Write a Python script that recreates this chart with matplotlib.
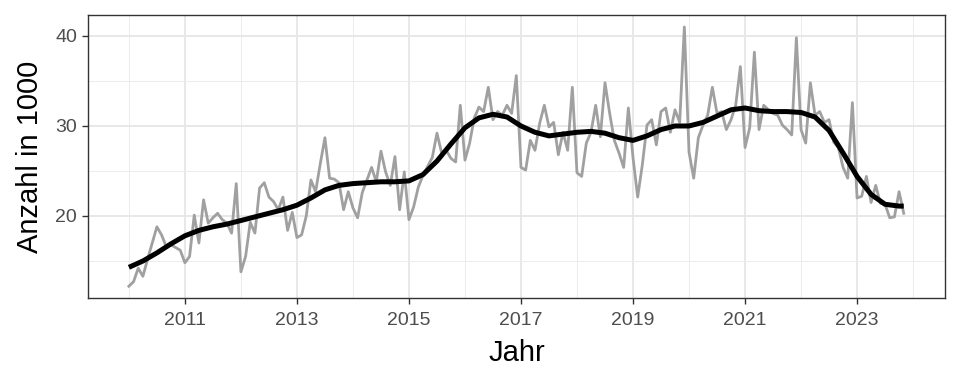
import numpy as np
from matplotlib import pyplot as plt
from matplotlib.ticker import FixedLocator

# monthly values (in 1000), Jan 2010 .. Nov 2023
anzahl = [
    12.2, 12.7, 14.2, 13.3, 15.2, 17.0, 18.8, 17.9, 16.6, 16.8, 16.5, 16.2,  # 2010
    14.8, 15.5, 20.1, 17.0, 21.8, 19.2, 19.8, 20.3, 19.6, 19.2, 18.1, 23.6,  # 2011
    13.8, 15.5, 19.3, 18.1, 23.1, 23.7, 22.1, 21.6, 20.7, 22.1, 18.4, 20.4,  # 2012
    17.6, 17.9, 20.0, 24.0, 22.7, 25.8, 28.7, 24.2, 24.1, 23.7, 20.7, 22.7,  # 2013
    20.9, 19.8, 22.6, 24.0, 25.4, 23.8, 27.2, 24.9, 23.4, 26.6, 20.7, 24.9,  # 2014
    19.6, 21.0, 23.2, 24.5, 25.5, 26.5, 29.2, 27.0, 27.3, 26.4, 26.0, 32.3,  # 2015
    26.2, 28.1, 30.9, 32.1, 31.6, 34.3, 30.7, 31.6, 31.2, 32.3, 31.4, 35.6,  # 2016
    25.4, 25.1, 28.4, 27.3, 30.3, 32.3, 29.9, 30.4, 26.8, 29.3, 27.3, 34.3,  # 2017
    24.8, 24.4, 28.1, 29.3, 32.3, 28.8, 34.8, 31.4, 28.4, 27.0, 25.4, 32.0,  # 2018
    26.5, 22.1, 25.7, 30.1, 30.7, 27.9, 31.6, 32.0, 29.3, 31.8, 30.4, 41.0,  # 2019
    27.1, 24.2, 28.7, 30.1, 31.2, 34.3, 31.4, 31.6, 29.6, 30.7, 32.3, 36.6,  # 2020
    27.6, 29.8, 38.2, 29.6, 32.3, 31.8, 31.4, 31.2, 30.1, 29.6, 29.0, 39.8,  # 2021
    29.6, 28.1, 34.8, 31.2, 31.6, 30.4, 30.7, 28.2, 27.6, 25.4, 24.2, 32.6,  # 2022
    22.0, 22.2, 24.4, 21.5, 23.4, 21.4, 21.3, 19.8, 19.9, 22.7, 20.3,        # 2023
]
jahr = 2010 + np.arange(len(anzahl)) / 12

# smoothed trend
trend_jahr = [2010 + q / 4 for q in range(56)] + [2023 + 10 / 12]
trend = [
    14.3, 15.0, 15.9, 16.9, 17.8, 18.4, 18.8, 19.1,
    19.5, 19.9, 20.3, 20.7, 21.2, 22.0, 22.9, 23.4,
    23.6, 23.7, 23.8, 23.8, 23.9, 24.6, 26.1, 28.0,
    29.8, 30.9, 31.3, 31.0, 30.0, 29.3, 28.9, 29.1,
    29.3, 29.4, 29.2, 28.7, 28.4, 28.9, 29.6, 30.0,
    30.0, 30.4, 31.1, 31.8, 32.0, 31.7, 31.6, 31.6,
    31.5, 31.0, 29.5, 27.0, 24.4, 22.4, 21.3, 21.1,
    21.1,
]

plt.rcParams['font.family'] = ['Liberation Sans', 'DejaVu Sans']

fig = plt.figure(figsize=(9.6, 3.84), dpi=100)
ax = fig.add_axes([88 / 960, 86 / 384, 857 / 960, 283 / 384])

ax.plot(jahr, anzahl, color='#a0a0a0', lw=2.0, zorder=3)
ax.plot(trend_jahr, trend, color='black', lw=3.6, zorder=4,
        solid_capstyle='butt', solid_joinstyle='round')

ax.set_xlim(2009.27, 2024.57)
ax.set_ylim(10.89, 42.33)
ax.xaxis.set_major_locator(FixedLocator([2011, 2013, 2015, 2017, 2019, 2021, 2023]))
ax.xaxis.set_minor_locator(FixedLocator([2010, 2012, 2014, 2016, 2018, 2020, 2022, 2024]))
ax.yaxis.set_major_locator(FixedLocator([20, 30, 40]))
ax.yaxis.set_minor_locator(FixedLocator([15, 25, 35]))

ax.grid(which='major', color='#e6e6e6', lw=1.3, zorder=0)
ax.grid(which='minor', color='#ececec', lw=0.7, zorder=0)
ax.set_axisbelow(True)

for s in ax.spines.values():
    s.set_color('#333333')
    s.set_linewidth(1.0)

ax.tick_params(which='major', length=4, width=1.0, color='#333333',
               labelsize=14, labelcolor='#4d4d4d')
ax.tick_params(axis='x', which='major', pad=6)
ax.tick_params(axis='y', which='major', pad=4)
ax.tick_params(which='minor', length=0)

ax.set_xlabel('Jahr', fontsize=21, labelpad=7)
ax.set_ylabel('Anzahl in 1000', fontsize=21, labelpad=8)

fig.savefig('out.png', dpi=100)
